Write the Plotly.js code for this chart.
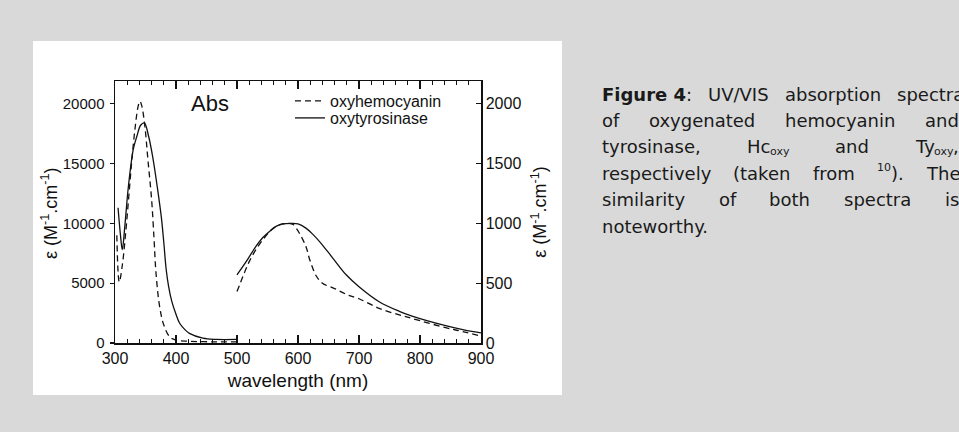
<!DOCTYPE html>
<html><head><meta charset="utf-8">
<script src="https://cdn.plot.ly/plotly-3.0.1.min.js"></script>
<style>html,body{margin:0;padding:0;background:#d9d9d9;}#chart{width:959px;height:432px;}</style>
</head><body><div id="chart"></div>
<script>
// ---- data ----
// UV region (left axis, M^-1 cm^-1)
const uvWlHemo = [303, 307, 312, 318, 323, 328, 333, 338, 341, 344, 349, 354, 360, 364, 367, 373, 380, 390, 400, 420, 460, 500];
const uvEpsHemo = [9000, 5100, 6500, 9500, 12500, 15500, 18000, 19800, 20200, 19800, 18100, 15300, 12000, 8700, 6000, 3100, 1500, 500, 250, 150, 100, 100];
const uvWlTyro = [305, 309, 312, 316, 322, 330, 336, 342, 348, 355, 362, 370, 376, 380, 384, 388, 393, 400, 406, 415, 422, 444, 466, 500];
const uvEpsTyro = [11300, 9000, 7800, 9700, 13100, 16200, 17300, 18200, 18400, 17300, 15500, 12800, 10500, 8400, 6100, 4700, 3500, 2400, 1650, 1100, 800, 400, 300, 300];
// visible region (right axis, M^-1 cm^-1)
const visWlHemo = [500, 510, 520, 531, 545, 560, 575, 585, 592, 602, 613, 619, 630, 640, 660, 680, 700, 733, 766, 787, 842, 870, 900];
const visEpsHemo = [430, 560, 680, 780, 880, 960, 995, 1000, 990, 920, 806, 700, 560, 500, 455, 405, 370, 290, 235, 205, 128, 95, 58];
const visWlTyro = [500, 515, 530, 542, 555, 564, 575, 590, 600, 613, 624, 635, 657, 679, 700, 733, 766, 787, 842, 870, 900];
const visEpsTyro = [570, 680, 800, 880, 940, 975, 995, 1000, 995, 960, 910, 850, 710, 570, 470, 345, 265, 225, 145, 112, 85];
const seriesNames = ['oxyhemocyanin', 'oxytyrosinase'];
const leftTicks = [0, 5000, 10000, 15000, 20000];
const rightTicks = [0, 500, 1000, 1500, 2000];
const xTicks = [300, 400, 500, 600, 700, 800, 900];
const yTitle = 'ε (M<sup>-1</sup>.cm<sup>-1</sup>)';

// caption text: lines of words, words of segments [text, kind]
const captionLines = [
  [[['Figure 4', 'b'], [':', 'n']], [['UV/VIS', 'n']], [['absorption', 'n']], [['spectra', 'n']]],
  [[['of', 'n']], [['oxygenated', 'n']], [['hemocyanin', 'n']], [['and', 'n']]],
  [[['tyrosinase,', 'n']], [['Hc', 'n'], ['oxy', 'sub']], [['and', 'n']], [['Ty', 'n'], ['oxy', 'sub'], [',', 'n']]],
  [[['respectively', 'n']], [['(taken', 'n']], [['from', 'n']], [['10', 'sup'], [').', 'n']], [['The', 'n']]],
  [[['similarity', 'n']], [['of', 'n']], [['both', 'n']], [['spectra', 'n']], [['is', 'n']]],
  [[['noteworthy.', 'n']]]
];

// ---- layout helpers ----
const L = 115, R = 481, T = 81, B = 343;
const px = x => (x - L) / (R - L);
const py = y => (B - y) / (B - T);
const ink = '#111';
const sans = 'Liberation Sans, Arial, sans-serif';
const axFont = {family: sans, size: 15, color: ink};
const dash = '6px,4px';

const traces = [
  {x: uvWlHemo, y: uvEpsHemo, name: seriesNames[0], mode: 'lines', line: {color: ink, width: 1.3, dash: dash, shape: 'spline'}, yaxis: 'y', legend: 'legend'},
  {x: uvWlTyro, y: uvEpsTyro, name: seriesNames[1], mode: 'lines', line: {color: ink, width: 1.3, shape: 'spline'}, yaxis: 'y', legend: 'legend2'},
  {x: visWlHemo, y: visEpsHemo, name: seriesNames[0], mode: 'lines', line: {color: ink, width: 1.3, dash: dash, shape: 'spline'}, yaxis: 'y2', showlegend: false},
  {x: visWlTyro, y: visEpsTyro, name: seriesNames[1], mode: 'lines', line: {color: ink, width: 1.3, shape: 'spline'}, yaxis: 'y2', showlegend: false}
];

// justified caption, measured with canvas
const capFam = '"DejaVu Sans", Verdana, sans-serif';
const capSize = 18, smallSize = 11;
const ctx = document.createElement('canvas').getContext('2d');
function segFont(kind) {
  if (kind === 'b') return 'bold ' + capSize + 'px ' + capFam;
  if (kind === 'sub' || kind === 'sup') return smallSize + 'px ' + capFam;
  return capSize + 'px ' + capFam;
}
function segWidth(seg) { ctx.font = segFont(seg[1]); return ctx.measureText(seg[0]).width; }
const capLeft = 601, capRight = 958, capTop = 94, capStep = 26.4;
const annotations = [];
captionLines.forEach((words, li) => {
  const y = capTop + li * capStep;
  const widths = words.map(w => w.reduce((s, seg) => s + segWidth(seg), 0));
  const total = widths.reduce((a, b) => a + b, 0);
  let gap;
  if (li === captionLines.length - 1 || words.length < 2) gap = 6;
  else gap = (capRight + (li === 0 ? 5 : 0) - capLeft - total) / (words.length - 1);
  let x = capLeft;
  words.forEach((w, wi) => {
    let sx = x;
    w.forEach(seg => {
      const k = seg[1];
      annotations.push({
        text: k === 'b' ? '<b>' + seg[0] + '</b>' : seg[0],
        x: px(sx), y: py(y + (k === 'sub' ? 5 : k === 'sup' ? -6 : 0)), xref: 'paper', yref: 'paper',
        xanchor: 'left', yanchor: 'middle', showarrow: false, borderpad: 0,
        font: {family: 'DejaVu Sans, Verdana, sans-serif', size: (k === 'sub' || k === 'sup') ? smallSize : capSize,
               color: '#1a1a1a', weight: k === 'b' ? 'bold' : 'normal'}
      });
      sx += segWidth(seg);
    });
    x += widths[wi] + gap;
  });
});
annotations.push({text: 'Abs', x: px(189), y: py(103), xref: 'paper', yref: 'paper',
  xanchor: 'left', yanchor: 'middle', showarrow: false, font: {family: sans, size: 22, color: ink}});
annotations.push({text: yTitle, textangle: -90, x: px(49), y: py(214), xref: 'paper', yref: 'paper',
  xanchor: 'center', yanchor: 'middle', showarrow: false, font: {family: sans, size: 18, color: ink}});

const legendStyle = {xanchor: 'left', yanchor: 'top', bgcolor: 'rgba(0,0,0,0)', borderwidth: 0,
  font: {family: sans, size: 16, color: ink}, tracegroupgap: 0, itemwidth: 30};

const layout = {
  width: 959, height: 432,
  margin: {l: L, r: 959 - R, t: T, b: 432 - B, pad: 0},
  paper_bgcolor: '#d9d9d9', plot_bgcolor: 'rgba(0,0,0,0)',
  showlegend: true,
  legend: Object.assign({x: px(290), y: py(84)}, legendStyle),
  legend2: Object.assign({x: px(290), y: py(101)}, legendStyle),
  shapes: [{type: 'rect', xref: 'paper', yref: 'paper', x0: px(33), x1: px(562), y0: py(395), y1: py(41),
    fillcolor: '#ffffff', line: {width: 0}, layer: 'below'}],
  xaxis: {range: [300, 900], tickvals: xTicks, ticks: 'inside', ticklen: 8, tickwidth: 1.2, tickcolor: ink,
    showline: true, linecolor: ink, linewidth: 1.5, mirror: 'ticks', showgrid: false, zeroline: false,
    minor: {dtick: 20, ticks: 'inside', ticklen: 4, tickwidth: 1, tickcolor: ink, showgrid: false},
    tickfont: {family: sans, size: 16, color: ink},
    title: {text: 'wavelength (nm)', font: {family: sans, size: 19, color: ink}, standoff: 8}},
  yaxis: {range: [0, 21900], tickvals: leftTicks, tickformat: 'd', ticks: 'outside', ticklen: 4, tickwidth: 1.2, tickcolor: ink,
    ticklabelstandoff: 2,
    showline: true, linecolor: ink, linewidth: 1.5, showgrid: false, zeroline: false, tickfont: axFont},
  yaxis2: {range: [0, 2190], tickvals: rightTicks, tickformat: 'd', overlaying: 'y', side: 'right', ticks: 'inside', ticklen: 5, tickwidth: 1.2, tickcolor: ink,
    showline: true, linecolor: ink, linewidth: 1.5, showgrid: false, zeroline: false, tickfont: {family: sans, size: 16, color: ink},
    title: {text: yTitle, font: {family: sans, size: 18, color: ink}, standoff: 13}},
  annotations: annotations
};

Plotly.newPlot('chart', traces, layout, {displayModeBar: false, staticPlot: true});
</script>
</body></html>
